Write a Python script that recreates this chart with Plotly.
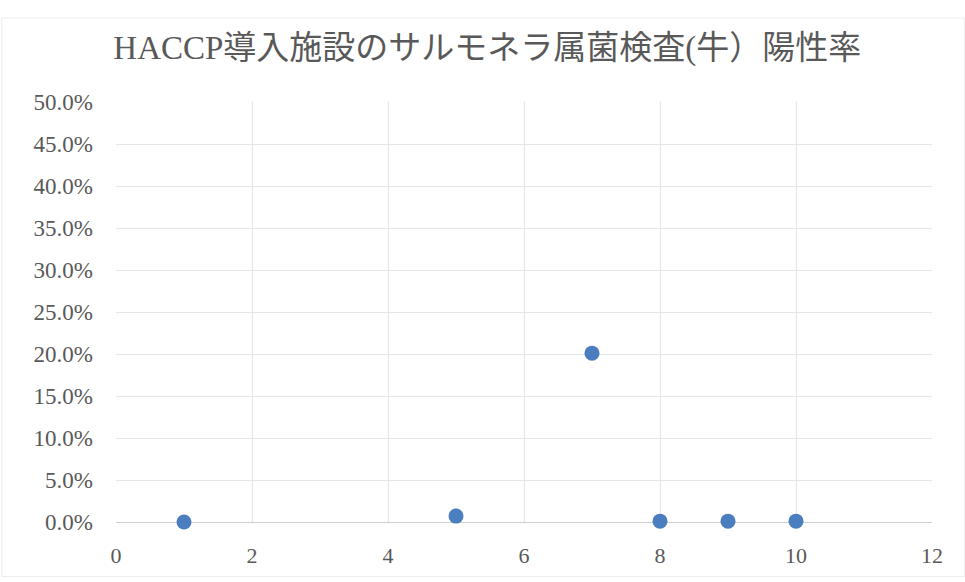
import plotly.graph_objects as go

# Facility number vs. Salmonella positive rate (cattle)
facility = [1, 5, 7, 8, 9, 10]
positive_rate = [0.0, 0.007, 0.201, 0.001, 0.001, 0.001]

title_text = "HACCP導入施設のサルモネラ属菌検査(牛）陽性率"

serif = "Liberation Serif, Noto Sans CJK JP, serif"
grey = "#595959"

fig = go.Figure(
    go.Scatter(
        x=facility,
        y=positive_rate,
        mode="markers",
        marker=dict(size=15, color="#4a7ebf", line=dict(width=0)),
        cliponaxis=False,
        showlegend=False,
    )
)

fig.update_layout(
    width=965,
    height=582,
    margin=dict(l=116, r=33, t=102, b=60),
    paper_bgcolor="white",
    plot_bgcolor="white",
    title=dict(
        text=title_text,
        x=0.505,
        xanchor="center",
        y=0.918,
        yanchor="middle",
        font=dict(family=serif, size=33, color=grey),
    ),
    xaxis=dict(
        range=[0, 12],
        tickvals=[0, 2, 4, 6, 8, 10, 12],
        showgrid=True,
        gridcolor="#e6e6e6",
        gridwidth=1,
        zeroline=False,
        showline=False,
        ticks="",
        ticklabelstandoff=18,
        tickfont=dict(family=serif, size=22, color=grey),
    ),
    yaxis=dict(
        range=[0, 0.5],
        tickvals=[i * 0.05 for i in range(11)],
        tickformat=".1%",
        showgrid=True,
        gridcolor="#e6e6e6",
        gridwidth=1,
        zeroline=True,
        zerolinecolor="#d0d0d0",
        zerolinewidth=1,
        showline=False,
        ticks="",
        ticklabelstandoff=22,
        tickfont=dict(family=serif, size=23, color=grey),
    ),
    shapes=[
        dict(
            type="rect", xref="paper", yref="paper",
            x0=-0.14, x1=1.04, y0=-0.13, y1=1.2,
            line=dict(color="#ececec", width=1),
        )
    ],
)

fig.write_html("out.html")
